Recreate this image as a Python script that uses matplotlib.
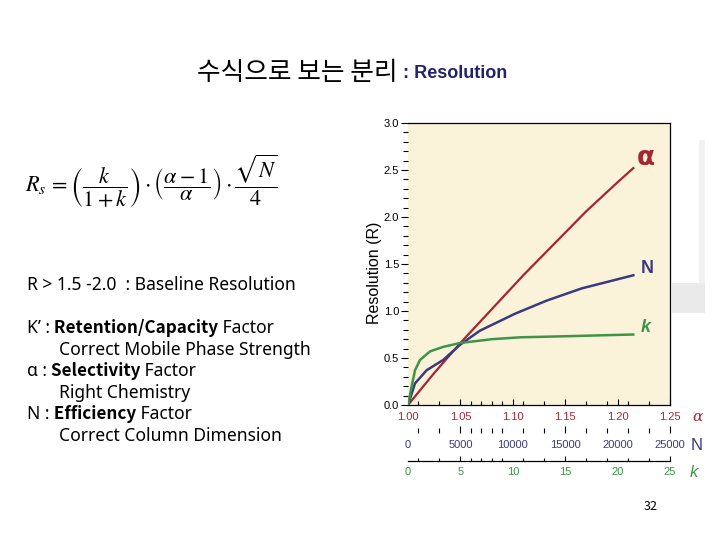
import matplotlib
matplotlib.use('Agg')
import matplotlib.pyplot as plt
from matplotlib.patches import Rectangle

"""
		resolution slide : Rs vs alpha, N, k
"""

# ---- values ----
alpha_vals = [1.00, 1.025, 1.05, 1.08, 1.11, 1.14, 1.17, 1.20, 1.215]
R_alpha = [0.0, 0.34, 0.66, 1.02, 1.38, 1.72, 2.06, 2.37, 2.52]

N_vals = [0, 670, 1780, 3370, 4960, 6850, 10190, 13220, 16560, 21500]
R_N = [0.0, 0.23, 0.37, 0.48, 0.64, 0.79, 0.97, 1.11, 1.24, 1.38]

k_vals = [0, 0.35, 0.67, 1.15, 2.1, 3.4, 5.0, 8.0, 10.7, 14.5, 18.0, 21.5]
R_k = [0.0, 0.20, 0.37, 0.48, 0.57, 0.62, 0.66, 0.70, 0.72, 0.73, 0.74, 0.75]

alpha_ticks = [1.00, 1.05, 1.10, 1.15, 1.20, 1.25]
alpha_labels = ['1.00', '1.05', '1.10', '1.15', '1.20', '1.25']
N_ticks = [0, 5000, 10000, 15000, 20000, 25000]
N_labels = ['0', '5000', '10000', '15000', '20000', '25000']
k_ticks = [0, 5, 10, 15, 20, 25]
k_labels = ['0', '5', '10', '15', '20', '25']
k_minor = [1, 3, 6, 7, 8, 9, 11, 13, 17, 19, 21, 23]
R_ticks = [0.0, 0.5, 1.0, 1.5, 2.0, 2.5, 3.0]
R_labels = ['0.0', '0.5', '1.0', '1.5', '2.0', '2.5', '3.0']

RED = '#a52630'
NAVY = '#3a3a7e'
GREEN = '#3f9448'
BEIGE = '#fbf2da'
KR = ['Noto Sans CJK KR', 'DejaVu Sans']
BODY = ['Noto Sans', 'Noto Sans CJK KR', 'DejaVu Sans']
ARIAL = ['Liberation Sans', 'DejaVu Sans']

plt.rcParams['mathtext.fontset'] = 'stix'


def set_bottom_axis(axis, ticks, labels, minor, color, pad, major_len, minor_len):
	axis.xaxis.set_ticks_position('bottom')
	axis.set_xticks(ticks)
	axis.set_xticklabels(labels, color=color, fontsize=8, family=ARIAL)
	axis.set_xticks(minor, minor=True)
	axis.tick_params(axis='x', which='major', direction='in', length=major_len,
		width=0.8, pad=pad)
	axis.tick_params(axis='x', which='minor', direction='in', length=minor_len,
		width=0.8)
	# only every second labelled position carries a tick mark
	for i, t in enumerate(axis.xaxis.get_major_ticks()):
		t.tick1line.set_visible(i % 2 == 1)


def rich_line(bg, x, y, parts, size=12.6):
	# normal pieces in Noto Sans, bold pieces in the CJK family (has a bold face)
	s, w = parts[0]
	t = bg.text(x, y, s, fontsize=size, family=BODY, ha='left', va='center')
	for s, w in parts[1:]:
		if w == 'bold':
			t = bg.annotate(s, xy=(1, 0.02), xycoords=t, fontweight='bold',
				fontsize=size-0.3, family=KR, ha='left', va='bottom')
		else:
			t = bg.annotate(s, xy=(1, 0), xycoords=t, fontsize=size,
				family=BODY, ha='left', va='bottom')
	return t


################################################################################
def main():
	fig = plt.figure(figsize=(7.2, 5.4), dpi=100)
	fig.patch.set_facecolor('white')

	bg = fig.add_axes([0, 0, 1, 1])
	bg.set_xlim(0, 1)
	bg.set_ylim(0, 1)
	bg.axis('off')

	# greyish photo edge on the right of the chart picture
	bg.add_patch(Rectangle((672/720., 1-313/540.), 33/720., 30/540., color='#eaeaea', lw=0))
	bg.add_patch(Rectangle((699/720., 1-283/540.), 6/720., 143/540., color='#f1f1f1', lw=0))

	# title
	t = bg.text(197/720., 1-73/540., u'수식으로 보는 분리', fontsize=18.5, family=KR,
		ha='left', va='center')
	bg.annotate(' : Resolution', xy=(1, 0.14), xycoords=t, fontsize=13,
		fontweight='bold', family=ARIAL, color='#23236c', ha='left', va='bottom')

	# formula
	bg.text(25/720., 1-181/540.,
		r'$R_s\,=\left(\dfrac{k}{1+k}\right)\cdot\left(\dfrac{\alpha-1}{\alpha}\right)\cdot\dfrac{\sqrt{N}}{4}$',
		fontsize=16, ha='left', va='center')

	rich_line(bg, 27/720., 1-285/540., [(u'R > 1.5 -2.0  : Baseline Resolution', 'normal')])
	rich_line(bg, 27/720., 1-328/540., [(u'K’ :', 'normal'), (u' Retention/Capacity', 'bold'), (u' Factor', 'normal')])
	rich_line(bg, 59/720., 1-350/540., [(u'Correct Mobile Phase Strength', 'normal')])
	rich_line(bg, 27/720., 1-371/540., [(u'α :', 'normal'), (u' Selectivity', 'bold'), (u' Factor', 'normal')])
	rich_line(bg, 59/720., 1-393/540., [(u'Right Chemistry', 'normal')])
	rich_line(bg, 27/720., 1-414/540., [(u'N :', 'normal'), (u' Efficiency', 'bold'), (u' Factor', 'normal')])
	rich_line(bg, 59/720., 1-436/540., [(u'Correct Column Dimension', 'normal')])

	bg.text(651/720., 1-506/540., '32', fontsize=9, family=KR, ha='center', va='center')

	#################################################
	# chart
	ax = fig.add_axes([408/720., 1-405/540., 262/720., 282/540.])
	ax.set_facecolor(BEIGE)
	ax.plot(alpha_vals, R_alpha, color=RED, lw=1.6, zorder=3)
	ax.set_xlim(1.0, 1.25)
	ax.set_ylim(0, 3.0)
	ax.spines['left'].set_visible(False)
	for sp in ['top', 'right', 'bottom']:
		ax.spines[sp].set_linewidth(0.9)
	ax.set_yticks(R_ticks)
	ax.set_yticklabels(R_labels, fontsize=8, family=ARIAL)
	ax.set_yticks([i/10. for i in range(31) if i % 5 != 0], minor=True)
	ax.tick_params(axis='y', which='major', direction='out', length=5, width=0.8, pad=1.5)
	ax.tick_params(axis='y', which='minor', direction='out', length=3.5, width=0.8)
	ax.set_ylabel('Resolution (R)', fontsize=11.5, family=ARIAL)
	ax.yaxis.set_label_coords(-0.1, 0.47)
	set_bottom_axis(ax, alpha_ticks, alpha_labels, [1 + k/100. for k in k_minor],
		RED, 5.0, 4.5, 3.2)
	ax.annotate(u'α', xy=(alpha_vals[-1], R_alpha[-1]), xytext=(9, 7.5),
		textcoords='offset points', color=RED, fontsize=19, fontweight='bold',
		ha='center', va='center')

	axN = ax.twiny()
	axN.plot(N_vals, R_N, color=NAVY, lw=1.8, zorder=3)
	axN.set_xlim(0, 25000)
	for sp in ['top', 'right', 'left']:
		axN.spines[sp].set_visible(False)
	axN.spines['bottom'].set_position(('outward', 20))
	axN.spines['bottom'].set_visible(False)
	set_bottom_axis(axN, N_ticks, N_labels, [k*1000 for k in k_minor],
		NAVY, 5.0, 5.0, 3.6)
	axN.annotate('N', xy=(N_vals[-1], R_N[-1]), xytext=(10, 5),
		textcoords='offset points', color=NAVY, fontsize=13, fontweight='bold',
		family=ARIAL, ha='center', va='center')

	axk = ax.twiny()
	axk.plot(k_vals, R_k, color=GREEN, lw=1.8, zorder=3)
	axk.set_xlim(0, 25)
	for sp in ['top', 'right', 'left']:
		axk.spines[sp].set_visible(False)
	axk.spines['bottom'].set_position(('outward', 40.3))
	axk.spines['bottom'].set_linewidth(0.9)
	set_bottom_axis(axk, k_ticks, k_labels, k_minor, GREEN, 4.5, 3.5, 2.2)
	axk.annotate('k', xy=(k_vals[-1], R_k[-1]), xytext=(8.6, 4.7),
		textcoords='offset points', color=GREEN, fontsize=13, fontweight='bold',
		fontstyle='italic', family=ARIAL, ha='center', va='center')

	# axis letters at the right end of the three scales
	ax.text(1.103, -0.043, u'α', transform=ax.transAxes, color=RED, fontsize=11,
		family=['DejaVu Serif'], fontstyle='italic', ha='center', va='center')
	ax.text(1.103, -0.142, 'N', transform=ax.transAxes, color=NAVY, fontsize=12,
		family=ARIAL, ha='center', va='center')
	ax.text(1.092, -0.238, 'k', transform=ax.transAxes, color=GREEN, fontsize=12,
		family=ARIAL, fontstyle='italic', ha='center', va='center')

	plt.savefig('out.png', dpi=100)
	plt.close()

## End of function 'main'


################################################################################
if __name__ == "__main__":
	main()
